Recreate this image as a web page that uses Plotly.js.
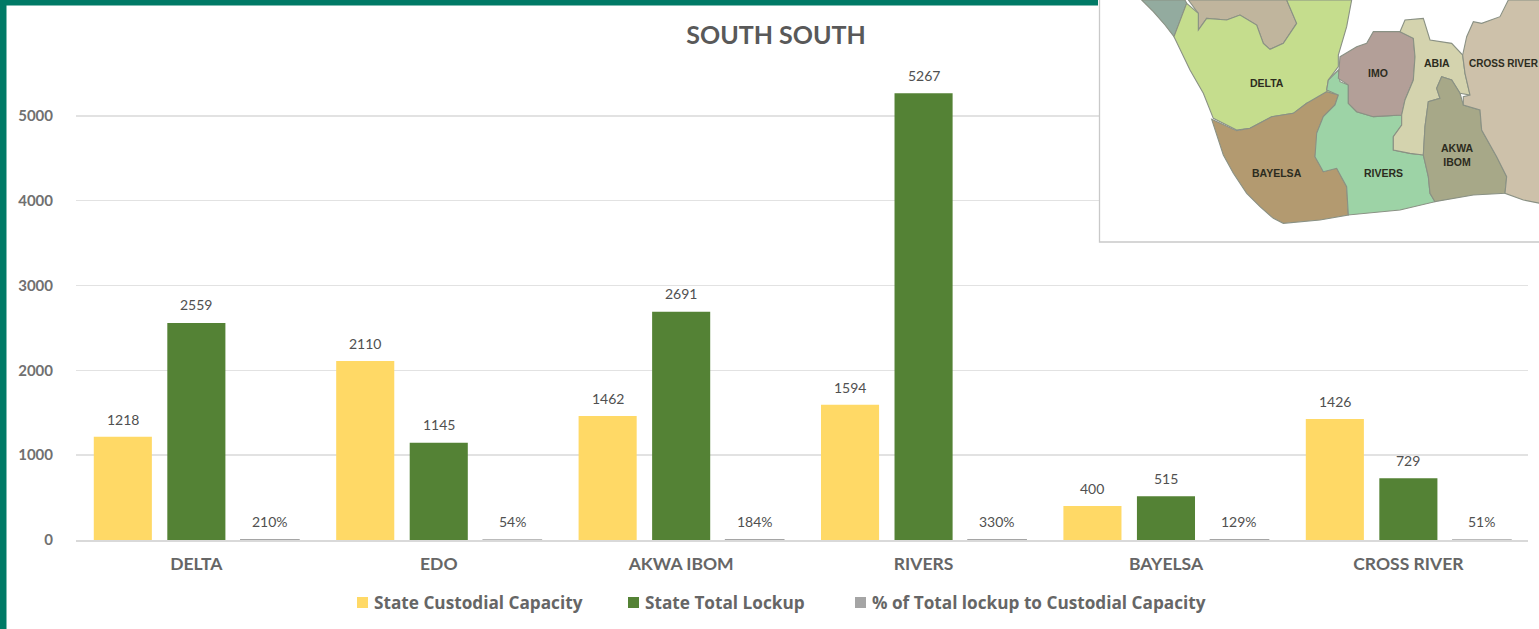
<!DOCTYPE html>
<html>
<head>
<meta charset="utf-8">
<script src="https://cdn.plot.ly/plotly-3.0.1.min.js"></script>
<style>html,body{margin:0;padding:0;background:#fff;overflow:hidden}#chart{width:1539px;height:629px}</style>
</head>
<body>
<div id="chart"></div>
<script>
const states = ['DELTA','EDO','AKWA IBOM','RIVERS','BAYELSA','CROSS RIVER'];
const custodialCapacity = [1218,2110,1462,1594,400,1426];
const totalLockup = [2559,1145,2691,5267,515,729];
const lockupShare = [2.10,0.54,1.84,3.30,1.29,0.51];
const shareLabels = ['210%','54%','184%','330%','129%','51%'];
const yTicks = [0,1000,2000,3000,4000,5000];
const seriesNames = ['State Custodial Capacity','State Total Lockup','% of Total lockup to Custodial Capacity'];
const seriesColors = ['#ffd966','#548235','#a5a5a5'];
const legendMarkerX = [357,628,855];

// Inset map outlines (3x crop coordinates)
const mapRegions = [
 {fill:'#93ab9f',pts:[[155,0],[285,0],[290,10],[252,110],[225,75],[190,35]]},
 {fill:'#c0b59d',pts:[[295,0],[325,40],[325,90],[350,55],[410,60],[450,45],[500,75],[520,130],[540,148],[580,130],[620,70],[590,0]]},
 {fill:'#c5dd8d',pts:[[290,10],[325,40],[325,90],[350,55],[410,60],[450,45],[500,75],[520,130],[540,148],[580,130],[620,70],[590,0],[785,0],[770,80],[745,165],[745,200],[715,240],[710,270],[740,275],[700,295],[650,310],[610,340],[545,350],[480,385],[440,390],[370,355],[340,280],[300,210],[252,110]]},
 {fill:'#b39a70',pts:[[365,358],[440,392],[480,385],[545,350],[610,340],[650,310],[710,275],[745,285],[735,315],[700,350],[680,400],[680,440],[675,470],[700,515],[740,505],[770,560],[775,645],[690,660],[580,670],[550,655],[510,620],[470,580],[430,520],[400,465]]},
 {fill:'#9dd3a6',pts:[[745,210],[750,245],[775,255],[775,310],[800,335],[850,350],[935,345],[935,375],[910,410],[910,450],[960,460],[1000,465],[1015,530],[1020,580],[1035,605],[930,630],[775,645],[770,560],[740,505],[700,515],[675,470],[680,400],[700,350],[735,315],[745,285],[710,270],[715,240]]},
 {fill:'#b39f98',pts:[[750,170],[800,140],[830,130],[850,95],[930,95],[970,115],[975,170],[970,240],[945,300],[935,345],[850,350],[800,335],[775,310],[775,255],[745,235]]},
 {fill:'#d4d3ae',pts:[[930,95],[945,60],[1000,55],[1020,120],[1085,130],[1118,165],[1125,220],[1140,285],[1110,280],[1085,240],[1055,230],[1040,265],[1050,295],[1015,305],[1005,380],[1000,465],[960,460],[910,450],[910,410],[935,375],[935,345],[945,300],[970,240],[975,170],[970,115]]},
 {fill:'#a7a888',pts:[[1055,230],[1085,240],[1110,280],[1120,315],[1170,330],[1175,390],[1220,470],[1250,530],[1245,580],[1150,585],[1035,605],[1020,580],[1015,530],[1000,465],[1005,380],[1015,305],[1050,295],[1040,265]]},
 {fill:'#cdc1aa',pts:[[1118,165],[1130,110],[1150,65],[1175,70],[1230,50],[1255,0],[1350,0],[1350,610],[1300,600],[1245,580],[1250,530],[1220,470],[1175,390],[1170,330],[1120,315],[1120,290],[1140,285],[1125,220]]}
];
const mapLabels = [
 {t:'DELTA',x:530,y:248},{t:'IMO',x:863,y:218},{t:'ABIA',x:1040,y:190},{t:'CROSS RIVER',x:1130,y:190,left:true,size:10},
 {t:'AKWA<br>IBOM',x:1102,y:466},{t:'BAYELSA',x:562,y:520},{t:'RIVERS',x:881,y:520}
];

const W=1539,H=629,mL=76,mR=11,mT=31,mB=89;
const px=x=>(x-mL)/(W-mL-mR), py=y=>1-(y-mT)/(H-mT-mB);
const mx=z=>px(z/3+1090), my=z=>py(z/3);
const paperRect=(x0,y0,x1,y1,fill,line)=>({type:'rect',xref:'paper',yref:'paper',layer:'above',x0:px(x0),x1:px(x1),y0:py(y0),y1:py(y1),fillcolor:fill,line:line||{width:0}});

const shapes=[
 paperRect(0,0,1098,5.5,'#007a66'),
 paperRect(0,0,6.5,629,'#007a66'),
 paperRect(1099.5,-3,1545,242,'#ffffff',{color:'#c9c9c9',width:1.3})
];
mapRegions.forEach(r=>shapes.push({type:'path',xref:'paper',yref:'paper',layer:'above',
 path:'M'+r.pts.map(p=>mx(p[0])+','+my(p[1])).join('L')+'Z',
 fillcolor:r.fill,line:{color:'#8a9184',width:1.1}}));
legendMarkerX.forEach((x,i)=>shapes.push(paperRect(x,597,x+11,608,seriesColors[i])));

const annotations=mapLabels.map(l=>({xref:'paper',yref:'paper',showarrow:false,text:'<b>'+l.t+'</b>',
 x:mx(l.x),y:my(l.y),xanchor:l.left?'left':'center',yanchor:'middle',align:'center',
 font:{family:'"Liberation Sans",sans-serif',size:l.size||10.5,color:'#2c2c20'}}));

// Legend entries
seriesNames.forEach((n,i)=>annotations.push({xref:'paper',yref:'paper',showarrow:false,text:'<b>'+n+'</b>',
 x:px(legendMarkerX[i]+15),y:py(602),xanchor:'left',yanchor:'middle',
 font:{family:'"Open Sans",sans-serif',size:17.2,color:'#666666'}}));

// Value labels, anchored to the data
const labelFont={family:'Lato,sans-serif',size:14,color:'#505050'};
const addLabels=(vals,labels,xshift,yshift)=>vals.forEach((v,i)=>annotations.push({xref:'x',yref:'y',x:states[i],y:v,
 text:labels[i],showarrow:false,xshift,yshift,xanchor:'center',yanchor:'middle',font:labelFont}));
addLabels(custodialCapacity,custodialCapacity.map(String),-73.5,17.5);
addLabels(totalLockup,totalLockup.map(String),0,18);
addLabels(lockupShare,shareLabels,73.5,18);

const traces=[
 {type:'bar',name:seriesNames[0],x:states,y:custodialCapacity,marker:{color:seriesColors[0]},cliponaxis:false},
 {type:'bar',name:seriesNames[1],x:states,y:totalLockup,marker:{color:seriesColors[1]},cliponaxis:false},
 {type:'bar',name:seriesNames[2],x:states,y:lockupShare,marker:{color:seriesColors[2],line:{color:seriesColors[2],width:1.6}},cliponaxis:false}
];
const layout={
 width:W,height:H,margin:{l:mL,r:mR,t:mT,b:mB,pad:0},
 paper_bgcolor:'#ffffff',plot_bgcolor:'#ffffff',
 barmode:'group',bargap:0.09,bargroupgap:0.21,showlegend:false,
 title:{text:'<b>SOUTH SOUTH</b>',x:px(776),xanchor:'center',xref:'paper',y:1-35/H,yanchor:'middle',
  font:{family:'Lato,sans-serif',size:25,color:'#595959'}},
 xaxis:{type:'category',range:[-0.4965,5.4935],tickfont:{family:'Lato,sans-serif',size:17.5,color:'#666666',weight:700},
  showgrid:false,ticks:'outside',ticklen:7,tickcolor:'rgba(0,0,0,0)',showline:true,linecolor:'#d9d9d9',linewidth:1.5,zeroline:false,automargin:false},
 yaxis:{range:[0,6000],tickvals:yTicks,tickfont:{family:'Lato,sans-serif',size:15,color:'#707070',weight:700},
  showgrid:true,gridcolor:'#e2e2e2',gridwidth:1.5,zeroline:false,ticks:'outside',ticklen:19,tickcolor:'rgba(0,0,0,0)',showline:false,automargin:false},
 shapes,annotations
};
Plotly.newPlot('chart',traces,layout,{displayModeBar:false,staticPlot:true});
</script>
</body>
</html>
